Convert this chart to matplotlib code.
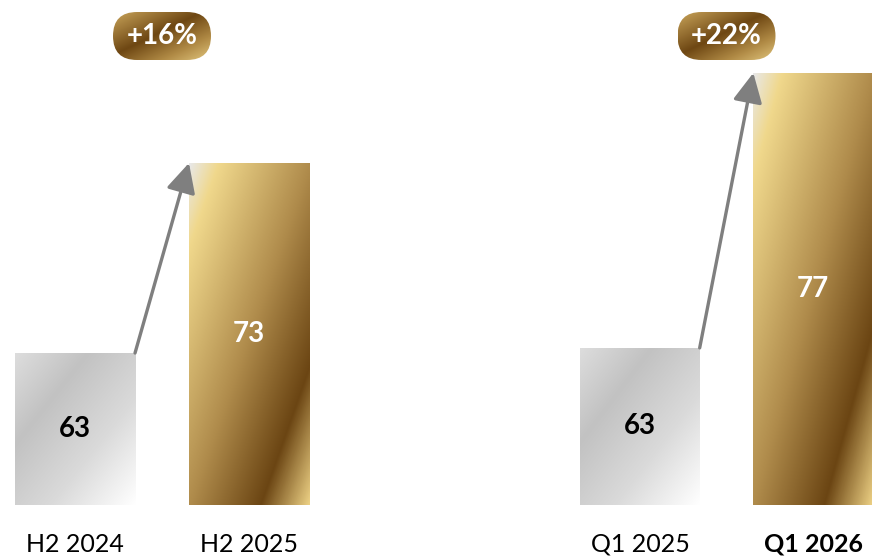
import matplotlib
matplotlib.use("Agg")
import matplotlib.pyplot as plt
import numpy as np
from matplotlib.colors import LinearSegmentedColormap
from matplotlib.patches import FancyBboxPatch

plt.rcParams["font.family"] = ["Lato", "DejaVu Sans"]

# data
left_categories = ["H2 2024", "H2 2025"]
left_values = [63, 73]
left_growth = "+16%"

right_categories = ["Q1 2025", "Q1 2026"]
right_values = [63, 77]
right_growth = "+22%"

BASE = 55

grey_cmap = LinearSegmentedColormap.from_list(
    "grey", [(0, "#dddddd"), (0.3, "#c2c2c2"), (0.65, "#dadada"), (1, "#ffffff")])
gold_cmap = LinearSegmentedColormap.from_list(
    "gold", [(0, "#e8e8e8"), (0.12, "#f0d88c"), (0.5, "#b08c4c"),
             (0.8, "#6b4513"), (1, "#ecd084")])
pill_cmap = LinearSegmentedColormap.from_list(
    "pill", [(0, "#c9a45a"), (0.45, "#6e4713"), (0.75, "#b08a45"), (1, "#e2c67e")])


def diag_gradient(n=200, m=200):
    u = np.linspace(0, 1, m)[None, :]
    v = np.linspace(0, 1, n)[:, None]
    return (u + v) / 2


def fill_gradient(ax, patch, cmap):
    x, y = patch.get_x(), patch.get_y()
    w, h = patch.get_width(), patch.get_height()
    im = ax.imshow(diag_gradient(), cmap=cmap, vmin=0, vmax=1, aspect="auto",
                   extent=[x, x + w, y, y + h], origin="upper", zorder=2,
                   interpolation="bilinear")
    im.set_clip_path(patch)


def pill(fig, ax, xc, text):
    # place a gradient pill above group centre
    px, _ = ax.transData.transform((xc, BASE))
    w, h = 98, 48
    top = 12
    pax = fig.add_axes([(px - w / 2) / 872, (560 - top - h) / 560, w / 872, h / 560])
    pax.set_xlim(0, w)
    pax.set_ylim(0, h)
    pax.axis("off")
    box = FancyBboxPatch((0, 0), w, h, boxstyle="round,pad=0,rounding_size=24",
                         facecolor="none", edgecolor="none")
    pax.add_patch(box)
    im = pax.imshow(diag_gradient(), cmap=pill_cmap, vmin=0, vmax=1, aspect="auto",
                    extent=[0, w, 0, h], origin="upper", interpolation="bilinear")
    im.set_clip_path(box)
    pax.text(w / 2, h / 2, text, color="white", fontsize=20, fontweight="bold",
             ha="center", va="center")


def panel(fig, rect, xlim, top, categories, values, growth, bold_last):
    ax = fig.add_axes(rect)
    x = np.array([0, 1])
    width = 0.69
    bars = ax.bar(x, np.array(values) - BASE, bottom=BASE, width=width,
                  facecolor="none", edgecolor="none")
    fill_gradient(ax, bars[0], grey_cmap)
    fill_gradient(ax, bars[1], gold_cmap)
    ax.set_xlim(*xlim)
    ax.set_ylim(BASE, top)
    for xi, v, c in zip(x, values, ["black", "white"]):
        ax.text(xi, (BASE + v) / 2, str(v), ha="center", va="center",
                fontsize=20, fontweight="bold", color=c, zorder=3)
    ax.annotate("", xy=(x[1] - width / 2, values[1]), xytext=(x[0] + width / 2, values[0]),
                arrowprops=dict(arrowstyle="-|>,head_length=0.9,head_width=0.45",
                                color="#7f7f7f", lw=2.4, shrinkA=0, shrinkB=0,
                                mutation_scale=20), zorder=4)
    ax.set_xticks(x)
    ax.set_xticklabels(categories, fontsize=18)
    if bold_last:
        ax.get_xticklabels()[1].set_fontweight("bold")
    ax.tick_params(axis="x", length=0, pad=20)
    ax.set_yticks([])
    for s in ax.spines.values():
        s.set_visible(False)
    ax.patch.set_alpha(0)
    pill(fig, ax, 0.5, growth)
    return ax


fig = plt.figure(figsize=(8.72, 5.6), dpi=100)
b = 55 / 560
hgt = 505 / 560
panel(fig, [0, b, 0.5, hgt], (-75 / 174, 361 / 174), BASE + 505 / 19.0,
      left_categories, left_values, left_growth, False)
panel(fig, [0.5, b, 0.5, hgt], (-204 / 173, 232 / 173), BASE + 505 / 19.64,
      right_categories, right_values, right_growth, True)

fig.savefig("out.png", dpi=100)
